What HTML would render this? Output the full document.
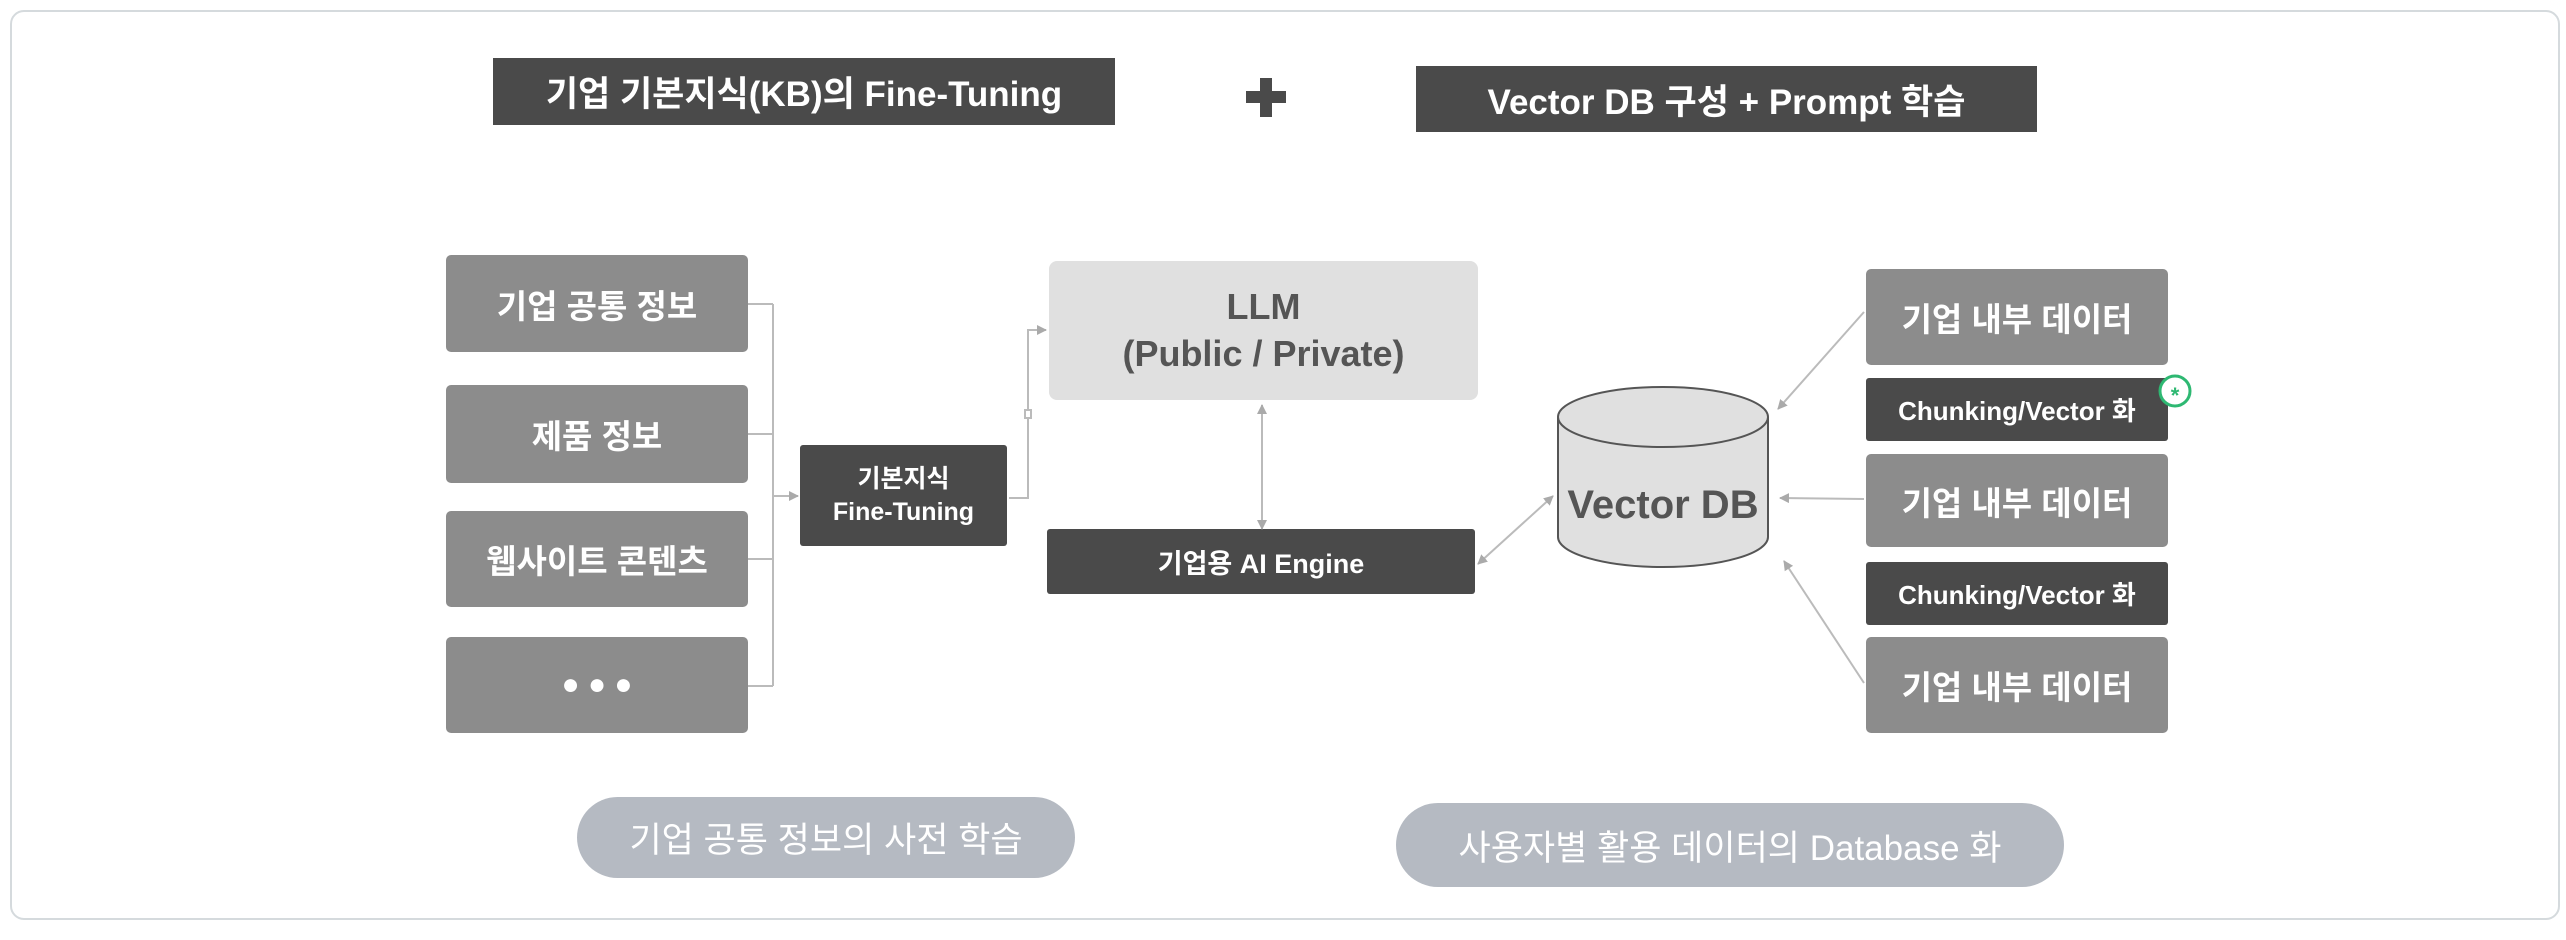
<!DOCTYPE html>
<html><head><meta charset="utf-8"><style>
body{margin:0;width:2566px;height:940px;background:#fff;position:relative;overflow:hidden;font-family:"Liberation Sans","Noto Sans CJK KR",sans-serif}
.b{position:absolute;display:flex;align-items:center;justify-content:center;color:#fff;font-weight:bold;text-align:center;box-sizing:border-box}
.g{background:#8c8c8c;border-radius:5px;font-size:33px}
.d{background:#4a4a4a;border-radius:3px}
.t{background:#4a4a4a;font-size:35px}
.p{background:#b5bac2;border-radius:45px;font-size:35px;font-weight:normal}
</style></head><body>
<div style="position:absolute;left:10px;top:10px;width:2546px;height:906px;border:2px solid #d5dadd;border-radius:14px"></div>
<div class="b t" style="left:493px;top:58px;width:622px;height:67px">기업 기본지식(KB)의 Fine-Tuning</div>
<div class="b t" style="left:1416px;top:66px;width:621px;height:66px">Vector DB 구성 + Prompt 학습</div>
<div style="position:absolute;left:1246px;top:91px;width:40px;height:12px;background:#4a4a4a"></div>
<div style="position:absolute;left:1260px;top:78px;width:12px;height:39px;background:#4a4a4a"></div>

<div class="b g" style="left:446px;top:255px;width:302px;height:97px">기업 공통 정보</div>
<div class="b g" style="left:446px;top:385px;width:302px;height:98px">제품 정보</div>
<div class="b g" style="left:446px;top:511px;width:302px;height:96px">웹사이트 콘텐츠</div>
<div class="b g" style="left:446px;top:637px;width:302px;height:96px;font-size:30px">● ● ●</div>

<div class="b d" style="left:800px;top:445px;width:207px;height:101px;font-size:25px;line-height:1.3">기본지식<br>Fine-Tuning</div>
<div class="b" style="left:1049px;top:261px;width:429px;height:139px;background:#e0e0e0;border-radius:8px;color:#555;font-size:36px;line-height:1.3">LLM<br>(Public / Private)</div>
<div class="b d" style="left:1047px;top:529px;width:428px;height:65px;font-size:27px">기업용 AI Engine</div>

<div class="b g" style="left:1866px;top:269px;width:302px;height:96px">기업 내부 데이터</div>
<div class="b d" style="left:1866px;top:378px;width:302px;height:63px;font-size:26px">Chunking/Vector 화</div>
<div class="b g" style="left:1866px;top:454px;width:302px;height:93px">기업 내부 데이터</div>
<div class="b d" style="left:1866px;top:562px;width:302px;height:63px;font-size:26px">Chunking/Vector 화</div>
<div class="b g" style="left:1866px;top:637px;width:302px;height:96px">기업 내부 데이터</div>

<div class="b p" style="left:577px;top:797px;width:498px;height:81px">기업 공통 정보의 사전 학습</div>
<div class="b p" style="left:1396px;top:803px;width:668px;height:84px">사용자별 활용 데이터의 Database 화</div>

<svg width="2566" height="940" style="position:absolute;left:0;top:0">
<defs><marker id="a" markerWidth="10" markerHeight="10" refX="9" refY="5" orient="auto-start-reverse" markerUnits="userSpaceOnUse"><path d="M0,0 L10,5 L0,10z" fill="#aaa"/></marker></defs>
<g stroke="#bbb" stroke-width="2" fill="none">
<path d="M748,304 H773 M748,434 H773 M748,559 H773 M748,686 H773 M773,304 V686"/>
<path d="M773,496 H798" marker-end="url(#a)"/>
<path d="M1009,498 H1028 V330 H1046" marker-end="url(#a)"/>
<rect x="1025" y="410" width="6" height="8" fill="#fff"/>
<path d="M1262,405 V529" marker-start="url(#a)" marker-end="url(#a)"/>
<path d="M1478,564 L1553,496" marker-start="url(#a)" marker-end="url(#a)"/>
<path d="M1864,312 L1778,409" marker-end="url(#a)"/>
<path d="M1864,499 L1780,498" marker-end="url(#a)"/>
<path d="M1864,683 L1784,561" marker-end="url(#a)"/>
</g>
<path d="M1558,417 V537 A105,30 0 0 0 1768,537 V417" fill="#e0e0e0" stroke="#555" stroke-width="2"/>
<ellipse cx="1663" cy="417" rx="105" ry="30" fill="#e0e0e0" stroke="#555" stroke-width="2"/>
<text x="1663" y="518" text-anchor="middle" font-size="40" font-weight="bold" fill="#555" font-family="Liberation Sans, sans-serif">Vector DB</text>
<circle cx="2175" cy="391" r="15" fill="#fff" stroke="#2eb872" stroke-width="3"/>
<text x="2175" y="403" text-anchor="middle" font-size="22" font-weight="bold" fill="#2eb872" font-family="Liberation Sans, sans-serif">*</text>
</svg>
</body></html>
